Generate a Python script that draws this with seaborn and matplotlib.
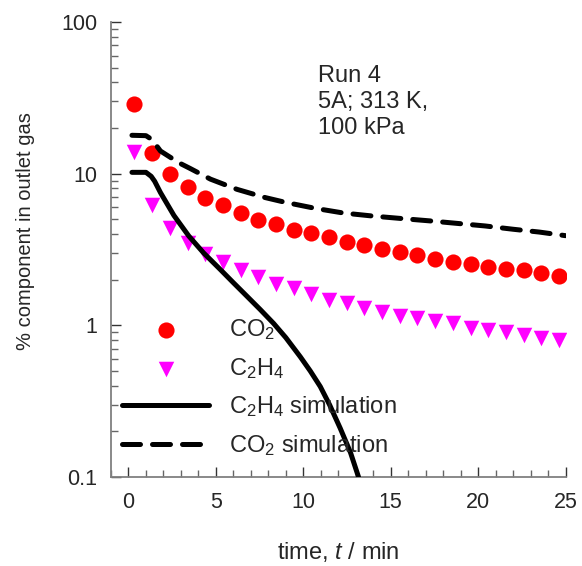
import matplotlib
matplotlib.use("Agg")
import matplotlib.pyplot as plt
import seaborn as sns
import numpy as np
import pandas as pd
from matplotlib.ticker import MultipleLocator, NullFormatter, LogLocator

# ---------------- data ----------------
t_meas = [0.34, 1.35, 2.36, 3.38, 4.39, 5.40, 6.41, 7.42, 8.44, 9.45, 10.46, 11.47,
          12.48, 13.50, 14.51, 15.52, 16.53, 17.54, 18.56, 19.57, 20.58, 21.59,
          22.60, 23.62, 24.63]
co2_meas = [28.6, 13.7, 10.0, 8.2, 6.95, 6.18, 5.53, 4.94, 4.63, 4.23, 4.04, 3.84,
            3.56, 3.38, 3.20, 3.06, 2.89, 2.75, 2.61, 2.52, 2.44, 2.36, 2.32, 2.22, 2.11]
c2h4_meas = [13.8, 6.18, 4.41, 3.51, 2.94, 2.61, 2.32, 2.09, 1.88, 1.75, 1.62, 1.48,
             1.41, 1.31, 1.23, 1.15, 1.11, 1.07, 1.03, 0.966, 0.931, 0.903, 0.859,
             0.83, 0.80]

t_co2_sim = [0.2, 1.0, 1.3, 1.6, 1.83, 2.88, 3.54, 4.69, 6.21, 7.83, 8.97, 10.7,
             12.3, 14.0, 15.7, 17.35, 18.8, 20.4, 22.0, 23.5, 25.0]
co2_sim = [17.9, 17.8, 16.9, 15.3, 14.1, 11.8, 10.8, 9.2, 7.88, 6.95, 6.47, 5.9,
           5.5, 5.25, 5.05, 4.87, 4.70, 4.52, 4.30, 4.12, 3.90]

t_c2h4_sim = [0.2, 1.0, 1.3, 1.5, 1.83, 2.6, 3.45, 4.3, 5.26, 6.0, 6.6, 7.54, 8.3,
              9.0, 9.83, 10.4, 10.97, 11.5, 12.11, 12.7, 13.16]
c2h4_sim = [10.2, 10.2, 9.6, 8.9, 7.5, 5.3, 3.88, 3.0, 2.33, 1.91, 1.63, 1.27, 1.03,
            0.83, 0.62, 0.50, 0.395, 0.30, 0.21, 0.145, 0.1]

labels = ["CO$_2$", "C$_2$H$_4$", "C$_2$H$_4$ simulation", "CO$_2$ simulation"]
ytick_vals = [0.1, 1, 10, 100]
ytick_labels = ["0.1", "1", "10", "100"]
annotation = "Run 4\n5A; 313 K,\n100 kPa"

# ---------------- style ----------------
sns.set_style("ticks")
plt.rcParams["font.family"] = ["Liberation Sans", "DejaVu Sans"]
plt.rcParams["mathtext.fontset"] = "custom"
plt.rcParams["mathtext.rm"] = "Liberation Sans"
plt.rcParams["mathtext.it"] = "Liberation Sans:italic"

fig = plt.figure(figsize=(5.82, 5.66), dpi=100)
ax = fig.add_axes([0.1907, 0.1572, 0.781, 0.804])

df_m = pd.DataFrame({"t": t_meas, "co2": co2_meas, "c2h4": c2h4_meas})
df_c = pd.DataFrame({"t": t_co2_sim, "v": co2_sim})
df_e = pd.DataFrame({"t": t_c2h4_sim, "v": c2h4_sim})

sns.scatterplot(data=df_m, x="t", y="c2h4", ax=ax, marker="v", s=125,
                color="#FF00FF", linewidth=0, label=labels[1], zorder=2)
sns.scatterplot(data=df_m, x="t", y="co2", ax=ax, marker="o", s=135,
                color="#FF0000", linewidth=0, label=labels[0], zorder=3)
sns.lineplot(data=df_e, x="t", y="v", ax=ax, color="black", lw=3.6,
             label=labels[2], zorder=4)
sns.lineplot(data=df_c, x="t", y="v", ax=ax, color="black", lw=3.6,
             label=labels[3], zorder=4)
ax.lines[-1].set_linestyle((0, (3.6, 2.4)))
for ln in ax.lines:
    ln.set_solid_joinstyle("round")
    ln.set_solid_capstyle("round")
    ln.set_dash_capstyle("round")
    ln.set_dash_joinstyle("round")

ax.set_yscale("log")
ax.set_xlim(-1, 25)
ax.set_ylim(0.1, 100)

ax.set_yticks(ytick_vals)
ax.set_yticklabels(ytick_labels)
ax.yaxis.set_minor_locator(LogLocator(base=10, subs=np.arange(2, 10)))
ax.yaxis.set_minor_formatter(NullFormatter())
ax.xaxis.set_major_locator(MultipleLocator(5))
ax.xaxis.set_minor_locator(MultipleLocator(1))

for side in ["top", "right"]:
    ax.spines[side].set_visible(False)
for side in ["left", "bottom"]:
    ax.spines[side].set_color("#808080")
    ax.spines[side].set_linewidth(1.3)

ax.tick_params(which="major", direction="in", length=7.2, width=1.0,
               color="#333333", labelsize=15.5, pad=10)
ax.tick_params(which="minor", direction="in", length=5, width=1.0, color="#666666")
ax.tick_params(axis="x", pad=11)

ax.set_xlabel("time, $\\mathit{t}$ / min", fontsize=17, labelpad=19)
ax.set_ylabel("% component in outlet gas", fontsize=14.5)
ax.yaxis.set_label_coords(-0.168, 0.541)

ax.text(0.455, 0.905, annotation, transform=ax.transAxes, fontsize=17,
        va="top", ha="left", linespacing=1.23)

h, l = ax.get_legend_handles_labels()
order = [l.index(x) for x in labels]
leg = ax.legend([h[i] for i in order], [l[i] for i in order], loc="upper left",
                bbox_to_anchor=(0.024, 0.351), frameon=False, fontsize=17,
                borderpad=0, borderaxespad=0, handlelength=3.7, handletextpad=0.85,
                labelspacing=0.58, scatterpoints=1)
for lh in leg.get_lines():
    lh.set_dash_capstyle("round")
    lh.set_solid_capstyle("round")

fig.savefig("out.png", dpi=100)
